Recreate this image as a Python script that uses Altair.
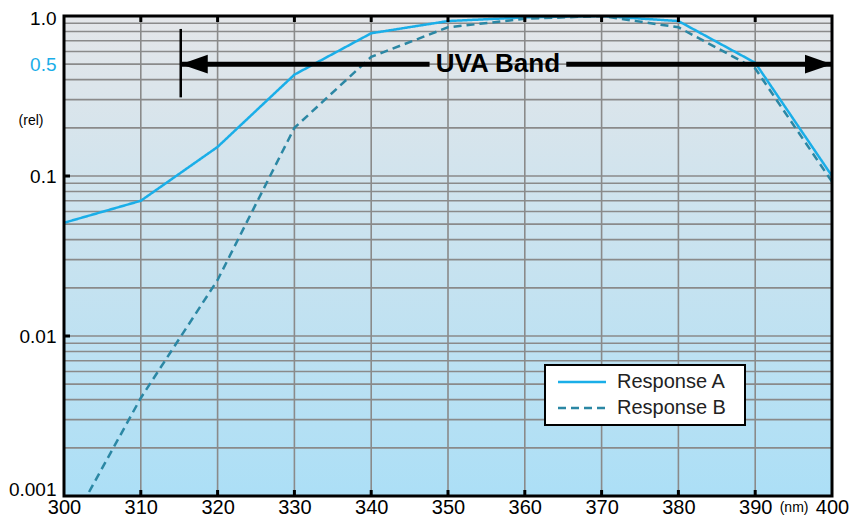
import altair as alt
import pandas as pd

# ---------------- data ----------------
NM = [300, 310, 320, 330, 340, 350, 360, 370, 380, 390, 400]
RESP_A = [0.051, 0.070, 0.152, 0.43, 0.78, 0.93, 0.98, 1.0, 0.93, 0.51, 0.10]
RESP_B = [0.00055, 0.0041, 0.0224, 0.20, 0.555, 0.85, 0.96, 1.0, 0.85, 0.47, 0.092]
SERIES = ["Response A", "Response B"]
COLORS = ["#1aaee8", "#2b87a4"]
DASHES = [[1, 0], [8, 5]]

X_DOMAIN = [300, 400]
Y_DOMAIN = [0.001, 1.0]
X_TICKS = [300, 310, 320, 330, 340, 350, 360, 370, 380, 390, 400]
X_UNIT_POS = 395
X_UNIT = "(nm)"
Y_LABEL_VALUES = [0.001, 0.01, 0.1, 0.5, 1.0]
Y_LABEL_TEXT = ["0.001", "0.01", "0.1", "0.5", "1.0"]
Y_UNIT_POS = 0.22
Y_UNIT = "(rel)"
Y_GRID = [0.002, 0.003, 0.004, 0.005, 0.006, 0.007, 0.008, 0.009,
          0.01, 0.02, 0.03, 0.04, 0.05, 0.06, 0.07, 0.08, 0.09,
          0.1, 0.2, 0.3, 0.4, 0.5, 0.6, 0.7, 0.8, 0.9]
Y_TICK_MARKS = [0.01, 0.1]

UVA_TEXT = "UVA Band"
UVA_Y = 0.5
UVA_SEG_START = [315.2, 365.4]
UVA_SEG_END = [347.6, 400]
UVA_TEXT_X = 356.5
UVA_BAR_X = 315.2
UVA_BAR_Y = [0.31, 0.83]

FONT = "Liberation Sans"
GRID_COLOR = "#8a8a8a"

# ---------------- frames ----------------
lines_df = pd.DataFrame({
    "nm": NM + NM,
    "value": RESP_A + RESP_B,
    "series": [SERIES[0]] * len(NM) + [SERIES[1]] * len(NM),
})
box_df = pd.DataFrame({"x0": [X_DOMAIN[0]], "x1": [X_DOMAIN[1]],
                       "y0": [Y_DOMAIN[0]], "y1": [Y_DOMAIN[1]]})
vgrid_df = pd.DataFrame({"gx": X_TICKS[1:-1]})
hgrid_df = pd.DataFrame({"gy": Y_GRID})
xt_df = pd.DataFrame({"tx": X_TICKS[1:-1] * 2,
                      "ty": [Y_DOMAIN[0]] * (len(X_TICKS) - 2) + [Y_DOMAIN[1]] * (len(X_TICKS) - 2)})
yt_df = pd.DataFrame({"tx": [X_DOMAIN[0]] * len(Y_TICK_MARKS), "ty": Y_TICK_MARKS})
seg_df = pd.DataFrame({"ax": UVA_SEG_START, "ax2": UVA_SEG_END, "ay": [UVA_Y, UVA_Y]})
bar_df = pd.DataFrame({"bx": [UVA_BAR_X], "by": [UVA_BAR_Y[0]], "by2": [UVA_BAR_Y[1]]})
headl_df = pd.DataFrame({"hx": [UVA_SEG_START[0]], "hy": [UVA_Y]})
headr_df = pd.DataFrame({"hx": [UVA_SEG_END[1]], "hy": [UVA_Y]})
text_df = pd.DataFrame({"tx": [UVA_TEXT_X], "ty": [UVA_Y], "t": [UVA_TEXT]})
yunit_df = pd.DataFrame({"ux": [X_DOMAIN[0]], "uy": [Y_UNIT_POS], "t": [Y_UNIT]})

# ---------------- axes ----------------
y_expr = " : ".join(
    f"datum.value == {v} ? '{t}'" for v, t in zip(Y_LABEL_VALUES, Y_LABEL_TEXT)
) + " : ''"

x_axis = alt.Axis(
    values=X_TICKS + [X_UNIT_POS],
    labelExpr=f"datum.value == {X_UNIT_POS} ? '{X_UNIT}' : datum.label",
    labelFontSize=alt.condition(f"datum.value == {X_UNIT_POS}", alt.value(14), alt.value(20)),
    labelColor="black", labelBaseline="middle", labelPadding=11,
    labelFont=FONT, labelFlush=False, labelOverlap=False,
    grid=False, ticks=False, domain=False, title=None,
)
y_axis = alt.Axis(
    values=Y_LABEL_VALUES,
    labelExpr=y_expr,
    labelColor=alt.condition("datum.value == 0.5", alt.value(COLORS[0]), alt.value("black")),
    labelFontSize=19,
    labelOffset={"condition": [{"test": "datum.value == 0.001", "value": -7},
                               {"test": "datum.value == 1", "value": 2}],
                 "value": 0},
    labelPadding=8, labelBaseline="middle", labelFont=FONT,
    labelFlush=False, labelOverlap=False,
    grid=False, ticks=False, domain=False, title=None,
)

xs = alt.Scale(domain=X_DOMAIN, nice=False, zero=False)
ys = alt.Scale(type="log", domain=Y_DOMAIN, nice=False)


def X(f):
    return alt.X(f"{f}:Q", scale=xs, axis=x_axis, title=None)


def Y(f):
    return alt.Y(f"{f}:Q", scale=ys, axis=y_axis, title=None)


gradient = alt.Gradient(
    gradient="linear",
    stops=[alt.GradientStop(color="#e4e6e9", offset=0),
           alt.GradientStop(color="#acdff6", offset=1)],
    x1=0, x2=0, y1=0, y2=1,
)

bg = alt.Chart(box_df).mark_rect(color=gradient).encode(
    x=X("x0"), x2="x1", y=Y("y0"), y2="y1")
vgrid = alt.Chart(vgrid_df).mark_rule(color=GRID_COLOR, strokeWidth=1.6).encode(x=X("gx"))
hgrid = alt.Chart(hgrid_df).mark_rule(color=GRID_COLOR, strokeWidth=1.6).encode(y=Y("gy"))

legend = alt.Legend(
    title=None, orient="none", legendX=481, legendY=349,
    fillColor="white", strokeColor="black", padding=7, rowPadding=6,
    labelFontSize=20, labelFont=FONT, labelColor="#222222", labelLimit=0,
    labelExpr="datum.label + '\u00a0\u00a0\u200b'",
    symbolType="M-0.5,0H5.5", symbolSize=256, symbolStrokeWidth=2.5, labelOffset=45,
)
lines = alt.Chart(lines_df).mark_line(strokeWidth=2.5, clip=True).encode(
    x=X("nm"), y=Y("value"),
    color=alt.Color("series:N", scale=alt.Scale(domain=SERIES, range=COLORS), legend=legend),
    strokeDash=alt.StrokeDash("series:N", scale=alt.Scale(domain=SERIES, range=DASHES), legend=legend),
)

xticks = alt.Chart(xt_df).mark_tick(orient="vertical", size=12, thickness=3,
                                     color="black", opacity=1, clip=True).encode(
    x=X("tx"), y=Y("ty"))
yticks = alt.Chart(yt_df).mark_tick(orient="horizontal", size=12, thickness=3,
                                     color="black", opacity=1, clip=True).encode(
    x=X("tx"), y=Y("ty"))

segs = alt.Chart(seg_df).mark_rule(color="black", strokeWidth=5).encode(
    x=X("ax"), x2="ax2", y=Y("ay"))
bar = alt.Chart(bar_df).mark_rule(color="black", strokeWidth=2.5).encode(
    x=X("bx"), y=Y("by"), y2="by2")
headl = alt.Chart(headl_df).mark_point(shape="M0,0L2,-0.7L2,0.7Z", filled=True, size=729,
                                       color="black", opacity=1).encode(x=X("hx"), y=Y("hy"))
headr = alt.Chart(headr_df).mark_point(shape="M0,0L-2,-0.7L-2,0.7Z", filled=True, size=729,
                                       color="black", opacity=1).encode(x=X("hx"), y=Y("hy"))
label = alt.Chart(text_df).mark_text(fontSize=26, fontWeight="bold", font=FONT,
                                     align="center", baseline="middle", color="black").encode(
    x=X("tx"), y=Y("ty"), text="t:N")
yunit = alt.Chart(yunit_df).mark_text(fontSize=14, font=FONT, align="center",
                                      baseline="middle", color="black", dx=-33).encode(
    x=X("ux"), y=Y("uy"), text="t:N")

frame = alt.Chart(box_df).mark_rect(fillOpacity=0, stroke="black", strokeWidth=3).encode(
    x=X("x0"), x2="x1", y=Y("y0"), y2="y1")

chart = alt.layer(
    bg, vgrid, hgrid, lines, xticks, yticks, segs, bar, headl, headr, label, frame, yunit
).properties(
    width=768, height=480,
    padding={"left": 56, "top": 8, "right": 18, "bottom": 20},
    autosize=alt.AutoSizeParams(type="none"),
).configure_view(strokeWidth=0).configure_legend(strokeWidth=2)

chart.save("out.html", embed_options={"renderer": "svg", "actions": False})
